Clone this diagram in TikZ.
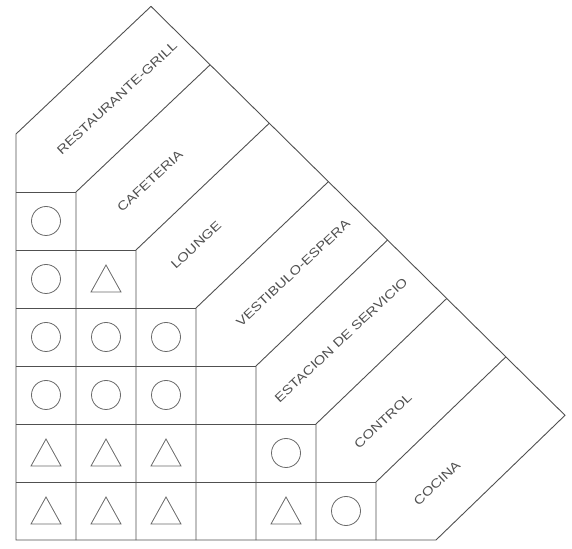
\documentclass[tikz,border=0pt]{standalone}
\usepackage{fontspec}
\usepackage{graphicx}
\setmainfont{Liberation Sans}
\usetikzlibrary{calc}
\definecolor{lineg}{RGB}{80,80,80}
\definecolor{textg}{RGB}{80,80,80}
\definecolor{shapeg}{RGB}{105,105,105}
\tikzset{
  gridline/.style={draw=lineg, line width=0.9pt, line join=miter},
  lbl/.style={rotate=43, inner sep=0pt, text=textg, font=\fontsize{12.5}{13}\selectfont},
  circ/.style={circle, draw=shapeg, line width=0.8pt, minimum size=29pt, inner sep=0pt},
}
\newcommand{\lbltext}[1]{\scalebox{1.2}[1]{#1}}
\newcommand{\tri}[1]{\draw[draw=shapeg, line width=0.8pt, line join=miter] ($(#1)+(-15pt,-13pt)$) -- ($(#1)+(15pt,-13pt)$) -- ($(#1)+(0,14pt)$) -- cycle;}
\begin{document}
\begin{tikzpicture}[x=60pt,y=58pt]
\useasboundingbox (-0.26667,-0.13793) rectangle (9.26667,9.31034);
\def\t{2.2}
% outline
\coordinate (O) at (0,0);
\coordinate (TL) at (0,7);
\coordinate (AP) at (\t+0.05,7+\t);
\coordinate (RC) at (7+\t-0.05,\t-0.05);
\coordinate (BR) at (7,0);
\draw[gridline] (O) -- (TL) -- (AP) -- (RC) -- (BR) -- cycle;
% staircase corners and dividers
\foreach \k in {1,...,6}{
  \coordinate (c\k) at (\k,7-\k);
  \coordinate (e\k) at ($(AP)!{\k/7}!(RC)$);
  \draw[gridline] (\k,0) -- (c\k) -- (e\k);
}
% horizontal lines
\foreach \j in {1,...,6}{
  \draw[gridline] (0,\j) -- (7-\j,\j);
}
% labels
\node[lbl] (l1) at (1.683,7.621) {\lbltext{RESTAURANTE-GRILL}};
\node[lbl] (l2) at (2.233,6.190) {\lbltext{CAFETERIA}};
\node[lbl] (l3) at (3.0,5.086) {\lbltext{LOUNGE}};
\node[lbl] (l4) at (4.617,4.603) {\lbltext{VESTIBULO-ESPERA}};
\node[lbl] (l5) at (5.417,3.448) {\lbltext{ESTACION DE SERVICIO}};
\node[lbl] (l6) at (6.117,2.052) {\lbltext{CONTROL}};
\node[lbl] (l7) at (7.017,0.983) {\lbltext{COCINA}};
% cell symbols
% row 1 (y 5-6)
\node[circ] (r1c1) at (0.5,5.5) {};
% row 2
\node[circ] (r2c1) at (0.5,4.5) {};
\coordinate (r2c2) at (1.5,4.5); \tri{r2c2}
% row 3
\node[circ] (r3c1) at (0.5,3.5) {};
\node[circ] (r3c2) at (1.5,3.5) {};
\node[circ] (r3c3) at (2.5,3.5) {};
% row 4
\node[circ] (r4c1) at (0.5,2.5) {};
\node[circ] (r4c2) at (1.5,2.5) {};
\node[circ] (r4c3) at (2.5,2.5) {};
% row 5
\coordinate (r5c1) at (0.5,1.5); \tri{r5c1}
\coordinate (r5c2) at (1.5,1.5); \tri{r5c2}
\coordinate (r5c3) at (2.5,1.5); \tri{r5c3}
\node[circ] (r5c5) at (4.5,1.5) {};
% row 6
\coordinate (r6c1) at (0.5,0.5); \tri{r6c1}
\coordinate (r6c2) at (1.5,0.5); \tri{r6c2}
\coordinate (r6c3) at (2.5,0.5); \tri{r6c3}
\coordinate (r6c5) at (4.5,0.5); \tri{r6c5}
\node[circ] (r6c6) at (5.5,0.5) {};
\end{tikzpicture}
\end{document}
